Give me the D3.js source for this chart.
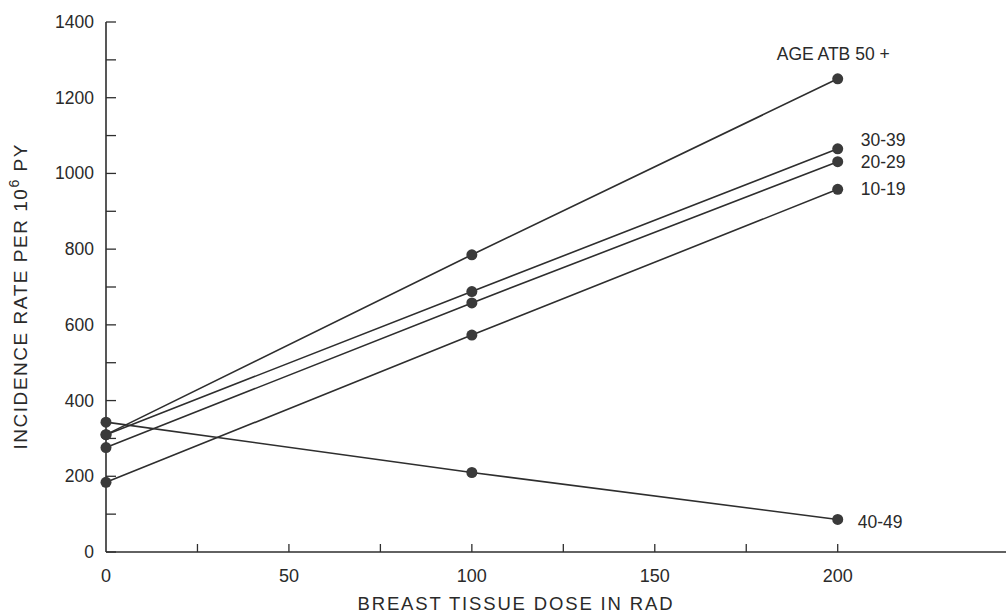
<!DOCTYPE html>
<html><head><meta charset="utf-8">
<script src="https://cdn.jsdelivr.net/npm/d3@7"></script>
<style>body{margin:0;background:#fff}svg{display:block}text{font-family:"Liberation Sans",Arial,sans-serif;fill:#2a2a2a}</style>
</head><body><svg id="c" width="1006" height="614"></svg>
<script>
const doses = [0, 100, 200];
const seriesNames = ["AGE ATB 50 +", "30-39", "20-29", "10-19", "40-49"];
const age50plus = [310, 785, 1250];
const age30_39 = [310, 688, 1065];
const age20_29 = [276, 658, 1031];
const age10_19 = [184, 573, 958];
const age40_49 = [343, 210, 86];
const xTickValues = [0, 25, 50, 75, 100, 125, 150, 175, 200];
const xTickLabels = [0, 50, 100, 150, 200];
const yTickValues = d3.range(0, 1500, 100);
const yTickLabels = [0, 200, 400, 600, 800, 1000, 1200, 1400];

const series = [age50plus, age30_39, age20_29, age10_19, age40_49];
const ink = "#2e2e2e";
const svg = d3.select("#c");
const x = d3.scaleLinear().domain([0, 246]).range([106, 1006]);
const y = d3.scaleLinear().domain([0, 1400]).range([552, 22]);

// axes
svg.append("line").attr("x1", x(0)).attr("x2", 1006).attr("y1", y(0)).attr("y2", y(0)).attr("stroke", ink).attr("stroke-width", 1.6);
svg.append("line").attr("x1", x(0)).attr("x2", x(0)).attr("y1", y(0)).attr("y2", y(1400)).attr("stroke", ink).attr("stroke-width", 1.6);
svg.selectAll(".xt").data(xTickValues.filter(d => d > 0)).enter().append("line")
  .attr("x1", d => x(d)).attr("x2", d => x(d)).attr("y1", y(0)).attr("y2", y(0) - 8)
  .attr("stroke", ink).attr("stroke-width", 1.3);
svg.selectAll(".yt").data(yTickValues).enter().append("line")
  .attr("x1", x(0)).attr("x2", x(0) + 10).attr("y1", d => y(d)).attr("y2", d => y(d))
  .attr("stroke", ink).attr("stroke-width", 1.3);
svg.selectAll(".xl").data(xTickLabels).enter().append("text")
  .attr("x", d => x(d)).attr("y", y(0) + 30).attr("text-anchor", "middle")
  .attr("font-size", 18).text(d => d);
svg.selectAll(".yl").data(yTickLabels).enter().append("text")
  .attr("x", 94).attr("y", d => y(d) + 6).attr("text-anchor", "end")
  .attr("font-size", 17.5).text(d => d);
svg.append("text").attr("x", 515).attr("y", 610).attr("text-anchor", "middle")
  .attr("font-size", 18.5).attr("textLength", 315).attr("lengthAdjust", "spacing")
  .text("BREAST TISSUE DOSE IN RAD");
const yl = svg.append("text").attr("transform", "translate(27,297) rotate(-90)")
  .attr("text-anchor", "middle").attr("font-size", 19)
  .attr("textLength", 305).attr("lengthAdjust", "spacing");
yl.append("tspan").text("INCIDENCE RATE PER 10");
yl.append("tspan").attr("dy", -8).attr("font-size", 14).text("6");
yl.append("tspan").attr("dy", 8).text(" PY");

// lines & points
const line = d3.line().x((d, i) => x(doses[i])).y(d => y(d));
series.forEach(s => {
  svg.append("path").attr("d", line(s)).attr("fill", "none").attr("stroke", ink).attr("stroke-width", 1.6);
  svg.selectAll(null).data(s).enter().append("circle")
    .attr("cx", (d, i) => x(doses[i])).attr("cy", d => y(d)).attr("r", 5.5).attr("fill", "#3a3a3a");
});

// labels
const labelPos = [
  {dx: -61, dy: -25},
  {dx: 23, dy: -9},
  {dx: 23, dy: 0},
  {dx: 23, dy: 0},
  {dx: 20, dy: 3}
];
series.forEach((s, k) => {
  svg.append("text").attr("x", x(200) + labelPos[k].dx).attr("y", y(s[2]) + labelPos[k].dy + 6)
    .attr("font-size", 17.5).text(seriesNames[k]);
});
</script></body></html>
